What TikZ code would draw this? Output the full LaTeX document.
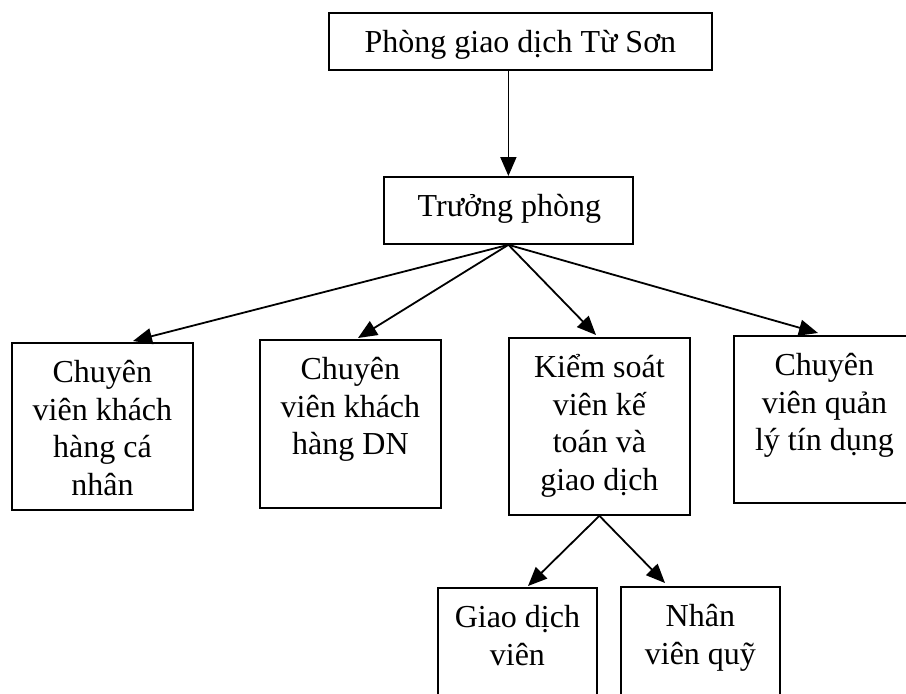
\documentclass[tikz,border=0pt]{standalone}
\usepackage{fontspec}
\setmainfont{Liberation Serif}
\usetikzlibrary{arrows.meta,calc}
\newcommand\orgtext[3]{\parbox[t][#2][t]{#1}{\fontsize{32pt}{37.5pt}\selectfont\centering\rule{0pt}{40pt}#3}}
\tikzset{
  orgbox/.style={draw, line width=1.8pt, inner sep=0pt, anchor=north west, fill=white},
  conn/.style={line width=1.8pt, -{Triangle[length=19pt,width=16pt]}}
}
\begin{document}
\begin{tikzpicture}[x=1pt,y=1pt]
\clip (0,0) rectangle (906,-694);
\fill[white] (0,0) rectangle (906,-694);
\node[orgbox] (top) at (328,-12) {\orgtext{383pt}{57pt}{Phòng giao dịch Từ Sơn}};
\node[orgbox] (tp) at (383,-176) {\orgtext{249pt}{67pt}{\hspace*{2pt}Trưởng phòng}};
\node[orgbox] (b1) at (11,-342) {\orgtext{181pt}{167pt}{Chuyên\\viên khách\\hàng cá\\nhân}};
\node[orgbox] (b2) at (259,-339) {\orgtext{181pt}{168pt}{Chuyên\\viên khách\\hàng DN}};
\node[orgbox] (b3) at (508,-337) {\orgtext{181pt}{177pt}{Kiểm soát\\viên kế\\toán và\\giao dịch}};
\node[orgbox] (b4) at (733,-335) {\orgtext{181pt}{167pt}{Chuyên\\viên quản\\lý tín dụng}};
\node[orgbox] (b5) at (437,-587) {\orgtext{159pt}{140pt}{Giao dịch\\viên}};
\node[orgbox] (b6) at (620,-586) {\orgtext{159pt}{140pt}{Nhân\\viên quỹ}};
\draw[conn] (tp.north |- top.south) -- (tp.north);
\draw[conn] (tp.south) -- ([xshift=122pt,yshift=1pt]b1.north west);
\draw[conn] (tp.south) -- ([xshift=99pt,yshift=1pt]b2.north west);
\draw[conn] (tp.south) -- ([xshift=88pt,yshift=2pt]b3.north west);
\draw[conn] (tp.south) -- ([xshift=85pt,yshift=2pt]b4.north west);
\draw[conn] (b3.south) -- ([xshift=91pt,yshift=1pt]b5.north west);
\draw[conn] (b3.south) -- ([xshift=45pt,yshift=3pt]b6.north west);
\end{tikzpicture}
\end{document}
